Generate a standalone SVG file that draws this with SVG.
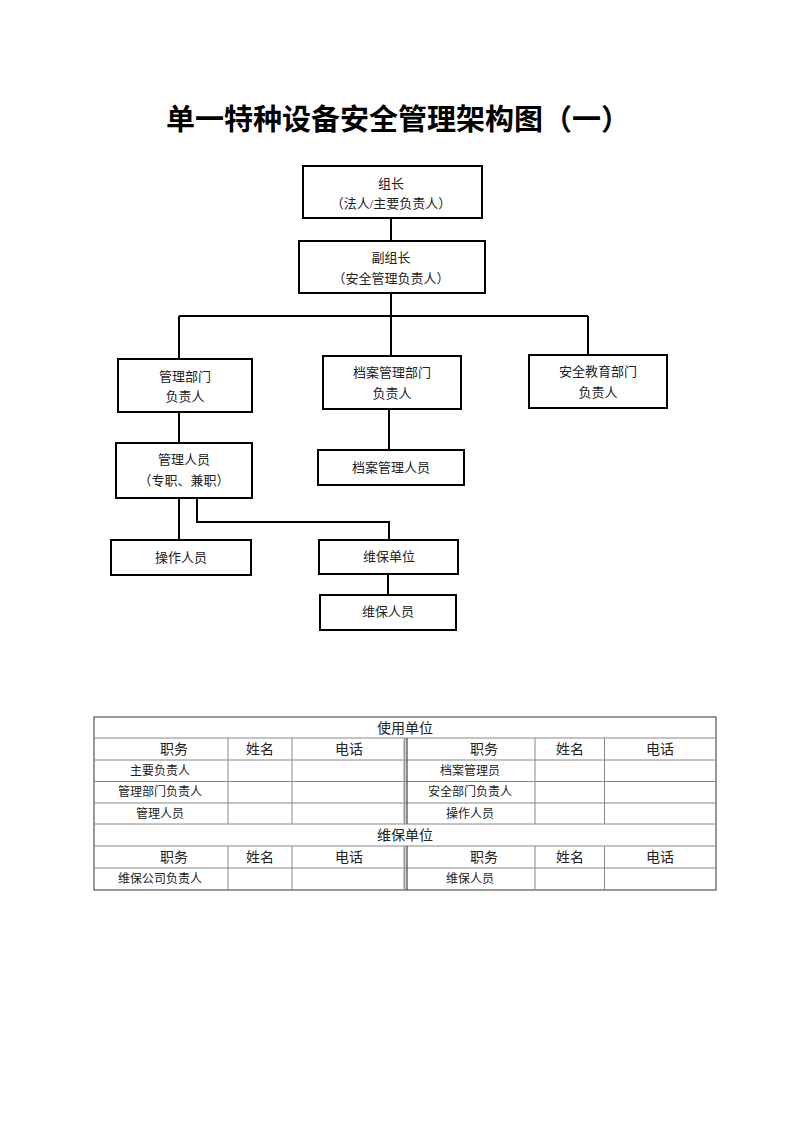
<svg xmlns="http://www.w3.org/2000/svg" width="800" height="1132" viewBox="0 0 800 1132">
<style>
.bg{fill:#fff}
.box{fill:#fff;stroke:#000;stroke-width:2}
.conn{fill:none;stroke:#000;stroke-width:2}
.t{font-family:"Liberation Serif","Noto Sans CJK SC",serif;font-size:13px;fill:#222;text-anchor:middle}
.title{font-family:"Noto Sans CJK SC",sans-serif;font-size:29px;font-weight:bold;fill:#000;text-anchor:middle}
.tl{stroke:#888;stroke-width:1;fill:none}
.tb{stroke:#555;stroke-width:1.2;fill:none}
.th{font-family:"Liberation Serif","Noto Sans CJK SC",serif;font-size:14px;fill:#222;text-anchor:middle}
.tc{font-family:"Liberation Serif","Noto Sans CJK SC",serif;font-size:12px;fill:#222;text-anchor:middle}
</style>
<rect class="bg" x="0" y="0" width="800" height="1132"/>
<text class="title" x="398" y="130">单一特种设备安全管理架构图（一）</text>

<g id="connectors">
<path class="conn" d="M391 218V241"/>
<path class="conn" d="M391 293V316M179 316H588M179 316V359M391 316V356M588 316V355"/>
<path class="conn" d="M179 412V443"/>
<path class="conn" d="M389 409V450"/>
<path class="conn" d="M179 498V540"/>
<path class="conn" d="M197 498V522H389V540"/>
<path class="conn" d="M388 574V595"/>
</g>

<g id="n-zuzhang">
<rect class="box" x="303" y="166" width="179" height="52"/>
<text class="t" x="391" y="188">组长</text>
<text class="t" x="391" y="208">（法人/主要负责人）</text>
</g>
<g id="n-fuzuzhang">
<rect class="box" x="299" y="241" width="186" height="52"/>
<text class="t" x="391" y="262">副组长</text>
<text class="t" x="391" y="283">（安全管理负责人）</text>
</g>
<g id="n-guanlibumen">
<rect class="box" x="118" y="359" width="134" height="53"/>
<text class="t" x="185" y="381">管理部门</text>
<text class="t" x="185" y="401">负责人</text>
</g>
<g id="n-danganbumen">
<rect class="box" x="323" y="356" width="138" height="53"/>
<text class="t" x="392" y="377">档案管理部门</text>
<text class="t" x="392" y="398">负责人</text>
</g>
<g id="n-anquanbumen">
<rect class="box" x="529" y="355" width="138" height="53"/>
<text class="t" x="598" y="376">安全教育部门</text>
<text class="t" x="598" y="397">负责人</text>
</g>
<g id="n-guanlirenyuan">
<rect class="box" x="116" y="443" width="136" height="55"/>
<text class="t" x="184" y="464">管理人员</text>
<text class="t" x="184" y="485">（专职、兼职）</text>
</g>
<g id="n-danganrenyuan">
<rect class="box" x="318" y="450" width="146" height="35"/>
<text class="t" x="391" y="472">档案管理人员</text>
</g>
<g id="n-caozuo">
<rect class="box" x="111" y="540" width="140" height="35"/>
<text class="t" x="181" y="562">操作人员</text>
</g>
<g id="n-weibaodanwei">
<rect class="box" x="319" y="540" width="139" height="34"/>
<text class="t" x="389" y="561">维保单位</text>
</g>
<g id="n-weibaorenyuan">
<rect class="box" x="320" y="595" width="136" height="35"/>
<text class="t" x="388" y="616">维保人员</text>
</g>

<g id="table">
<rect class="tb" x="94" y="717" width="622" height="173"/>
<path class="tl" d="M94 738H716M94 760H716M94 781.5H716M94 803H716M94 824H716M94 846H716M94 868H716"/>
<path class="tl" d="M228 738V824M292 738V824M535 738V824M604.5 738V824"/>
<path class="tl" d="M228 846V890M292 846V890M535 846V890M604.5 846V890"/>
<path stroke="#999" stroke-width="2" fill="none" d="M404.5 738V824M404.5 846V890"/>
<path stroke="#444" stroke-width="1.2" fill="none" d="M407 738V824M407 846V890"/>
<text class="th" x="405" y="733">使用单位</text>
<text class="th" x="174" y="754">职务</text>
<text class="th" x="260" y="754">姓名</text>
<text class="th" x="349" y="754">电话</text>
<text class="th" x="484" y="754">职务</text>
<text class="th" x="570" y="754">姓名</text>
<text class="th" x="660" y="754">电话</text>
<text class="tc" x="160" y="775">主要负责人</text>
<text class="tc" x="160" y="796">管理部门负责人</text>
<text class="tc" x="160" y="818">管理人员</text>
<text class="tc" x="470" y="775">档案管理员</text>
<text class="tc" x="470" y="796">安全部门负责人</text>
<text class="tc" x="470" y="818">操作人员</text>
<text class="th" x="405" y="840">维保单位</text>
<text class="th" x="174" y="862">职务</text>
<text class="th" x="260" y="862">姓名</text>
<text class="th" x="349" y="862">电话</text>
<text class="th" x="484" y="862">职务</text>
<text class="th" x="570" y="862">姓名</text>
<text class="th" x="660" y="862">电话</text>
<text class="tc" x="160" y="883">维保公司负责人</text>
<text class="tc" x="470" y="883">维保人员</text>
</g>
</svg>
